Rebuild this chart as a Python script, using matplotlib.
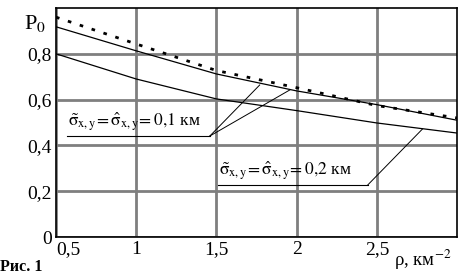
import numpy as np
import matplotlib.pyplot as plt

plt.rcParams['font.family'] = ['Liberation Serif', 'DejaVu Serif']
plt.rcParams['mathtext.fontset'] = 'stix'

# data
rho = [0.5, 1.0, 1.5, 2.0, 2.5, 3.0]
p_dotted = [0.96, 0.843, 0.727, 0.652, 0.574, 0.52]
p_upper = [0.918, 0.813, 0.712, 0.638, 0.578, 0.51]
p_lower = [0.80, 0.69, 0.603, 0.552, 0.498, 0.454]

xticks = [0.5, 1, 1.5, 2, 2.5]
xtick_labels = ['0,5', '1', '1,5', '2', '2,5']
yticks = [0, 0.2, 0.4, 0.6, 0.8]
ytick_labels = ['0', '0,2', '0,4', '0,6', '0,8']

fig = plt.figure(figsize=(4.64, 2.79), dpi=100)
ax = fig.add_axes([0.1207, 0.1505, 0.985 - 0.1207, 0.9713 - 0.1505])

ax.plot(rho, p_dotted, color='black', lw=2.0, ls=(0, (1.3, 3.2)))
ax.plot(rho, p_upper, color='black', lw=0.9)
ax.plot(rho, p_lower, color='black', lw=0.9)

ax.set_xlim(0.5, 3.0)
ax.set_ylim(0, 1.0)
ax.set_xticks(xticks)
ax.set_xticklabels(xtick_labels)
ax.set_yticks(yticks)
ax.set_yticklabels(ytick_labels)
ax.tick_params(length=0, labelsize=14, pad=3)
ax.get_xticklabels()[0].set_horizontalalignment('left')
ax.grid(True, color='#7f7f7f', lw=2.0)
for s in ax.spines.values():
    s.set_color('black')
    s.set_linewidth(1.2)

ax.text(-0.025, 0.98, r'P$_0$', transform=ax.transAxes, ha='right', va='top', fontsize=16)
ax.text(0.985, -0.045, r'ρ, км$^{-2}$', transform=ax.transAxes, ha='right', va='top', fontsize=13.5)
fig.text(0.0, 0.015, 'Рис. 1', fontsize=11.5, fontweight='bold', ha='left', va='bottom')

# annotations
lbl1 = r'$\tilde{\mathrm{σ}}_{\mathrm{x,y}}\!=\hat{\mathrm{σ}}_{\mathrm{x,y}}\!=0{,}1$ км'
lbl2 = r'$\tilde{\mathrm{σ}}_{\mathrm{x,y}}\!=\hat{\mathrm{σ}}_{\mathrm{x,y}}\!=0{,}2$ км'
ax.text(0.575, 0.455, lbl1, fontsize=12.6, ha='left', va='bottom')
ax.plot([0.568, 1.459], [0.441, 0.441], color='black', lw=0.8)
ax.plot([1.459, 1.770], [0.441, 0.664], color='black', lw=0.7)
ax.plot([1.459, 1.957], [0.441, 0.642], color='black', lw=0.7)

ax.text(1.515, 0.241, lbl2, fontsize=12.6, ha='left', va='bottom')
ax.plot([1.509, 2.443], [0.227, 0.227], color='black', lw=0.8)
ax.plot([2.443, 2.785], [0.227, 0.472], color='black', lw=0.7)

fig.savefig('out.png', dpi=100)
